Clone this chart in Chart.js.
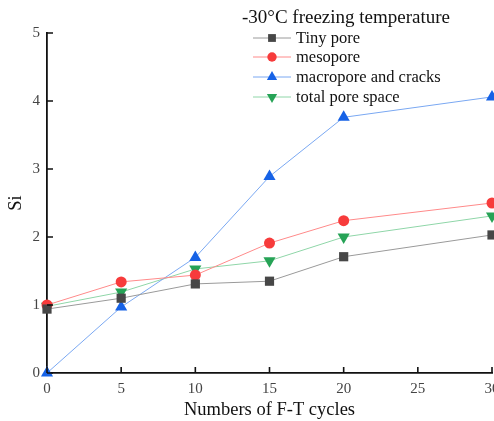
<!DOCTYPE html>
<html>
<head>
<meta charset="utf-8">
<script src="https://cdn.jsdelivr.net/npm/chart.js@4/dist/chart.umd.min.js"></script>
<style>
html,body{margin:0;padding:0;background:#fff;overflow:hidden;width:494px;height:421px;}
#wrap{position:absolute;left:0;top:0;width:520px;height:421px;}
</style>
</head>
<body>
<div id="wrap"><canvas id="c" width="520" height="421"></canvas></div>
<script>
const cycles = [0, 5, 10, 15, 20, 30];
const tinyPore = [0.94, 1.10, 1.31, 1.35, 1.71, 2.03];
const mesopore = [1.00, 1.34, 1.44, 1.91, 2.24, 2.50];
const macropore = [0.00, 0.97, 1.70, 2.89, 3.76, 4.06];
const totalPore = [0.98, 1.19, 1.53, 1.65, 2.00, 2.31];
const seriesNames = ['Tiny pore', 'mesopore', 'macropore and cracks', 'total pore space'];
const legendTitle = '-30°C freezing temperature';
const xTitle = 'Numbers of F-T cycles';
const yTitle = 'Si';

const toPts = arr => arr.map((v, i) => ({x: cycles[i], y: v}));
const FONT = "'Liberation Serif', 'Times New Roman', serif";

const styles = [
  {line: '#9a9a9a', pt: '#474747', ps: 'rect', r: 6.5, rot: 0},
  {line: '#ff8a8a', pt: '#f73b3b', ps: 'circle', r: 5.5, rot: 0},
  {line: '#7aa8f2', pt: '#1662e6', ps: 'triangle', r: 7, rot: 0},
  {line: '#8fd6a8', pt: '#26a356', ps: 'triangle', r: 7, rot: 180}
];
const values = [tinyPore, mesopore, macropore, totalPore];

const datasets = values.map((v, i) => ({
  label: seriesNames[i],
  data: toPts(v),
  borderColor: styles[i].line,
  borderWidth: 1,
  backgroundColor: styles[i].pt,
  pointBackgroundColor: styles[i].pt,
  pointBorderColor: styles[i].pt,
  pointBorderWidth: 0,
  pointStyle: styles[i].ps,
  pointRadius: styles[i].r,
  pointRotation: styles[i].rot,
  pointHoverRadius: styles[i].r,
  tension: 0,
  fill: false,
  clip: false
}));

const innerTicks = {
  id: 'innerTicks',
  afterDraw(chart) {
    const ctx = chart.ctx;
    const xs = chart.scales.x, ys = chart.scales.y;
    const a = chart.chartArea;
    ctx.save();
    ctx.strokeStyle = '#111';
    ctx.lineWidth = 1.6;
    ctx.beginPath();
    xs.ticks.forEach(t => {
      const px = xs.getPixelForValue(t.value);
      ctx.moveTo(px, a.bottom);
      ctx.lineTo(px, a.bottom - 6);
    });
    ys.ticks.forEach(t => {
      const py = ys.getPixelForValue(t.value);
      ctx.moveTo(a.left, py);
      ctx.lineTo(a.left + 6, py);
    });
    ctx.stroke();
    ctx.restore();
  }
};

const customLegend = {
  id: 'customLegend',
  afterDraw(chart) {
    const ctx = chart.ctx;
    ctx.save();
    ctx.fillStyle = '#111';
    ctx.textBaseline = 'middle';
    ctx.textAlign = 'left';
    ctx.font = '19px ' + FONT;
    ctx.fillText(legendTitle, 242, 18);
    const rows = [38, 57, 77, 97];
    ctx.font = '16.5px ' + FONT;
    chart.data.datasets.forEach((ds, i) => {
      const y = rows[i];
      ctx.strokeStyle = ds.borderColor;
      ctx.lineWidth = 1;
      ctx.beginPath();
      ctx.moveTo(253, y);
      ctx.lineTo(291, y);
      ctx.stroke();
      ctx.fillStyle = ds.pointBackgroundColor;
      ctx.strokeStyle = ds.pointBorderColor;
      Chart.helpers.drawPoint(ctx, {
        pointStyle: ds.pointStyle,
        rotation: ds.pointRotation,
        radius: ds.pointRadius * 0.85,
        borderWidth: 0
      }, 272, y);
      ctx.fillStyle = '#111';
      ctx.fillText(ds.label, 296, y + 1);
    });
    ctx.restore();
  }
};

new Chart(document.getElementById('c'), {
  type: 'line',
  data: {datasets},
  options: {
    responsive: false,
    animation: false,
    devicePixelRatio: 1,
    layout: {padding: {left: 5, top: 33, right: 28, bottom: 0}},
    plugins: {legend: {display: false}, tooltip: {enabled: false}},
    scales: {
      x: {
        type: 'linear',
        min: 0, max: 30,
        afterFit(s) { s.height = 48; },
        ticks: {stepSize: 5, color: '#444', padding: 7, font: {family: FONT, size: 15}, maxRotation: 0},
        grid: {display: false, drawTicks: false},
        border: {display: true, color: '#111', width: 1.8},
        title: {display: true, text: xTitle, color: '#111', font: {family: FONT, size: 18.5}, padding: {top: 3, bottom: 0}}
      },
      y: {
        type: 'linear',
        min: 0, max: 5,
        afterFit(s) { s.width = 42; },
        ticks: {stepSize: 1, color: '#444', padding: 7, font: {family: FONT, size: 15}},
        grid: {display: false, drawTicks: false},
        border: {display: true, color: '#111', width: 1.8},
        title: {display: true, text: yTitle, color: '#111', font: {family: FONT, size: 18.5}, padding: {top: 0, bottom: 4}}
      }
    }
  },
  plugins: [innerTicks, customLegend]
});
</script>
</body>
</html>
